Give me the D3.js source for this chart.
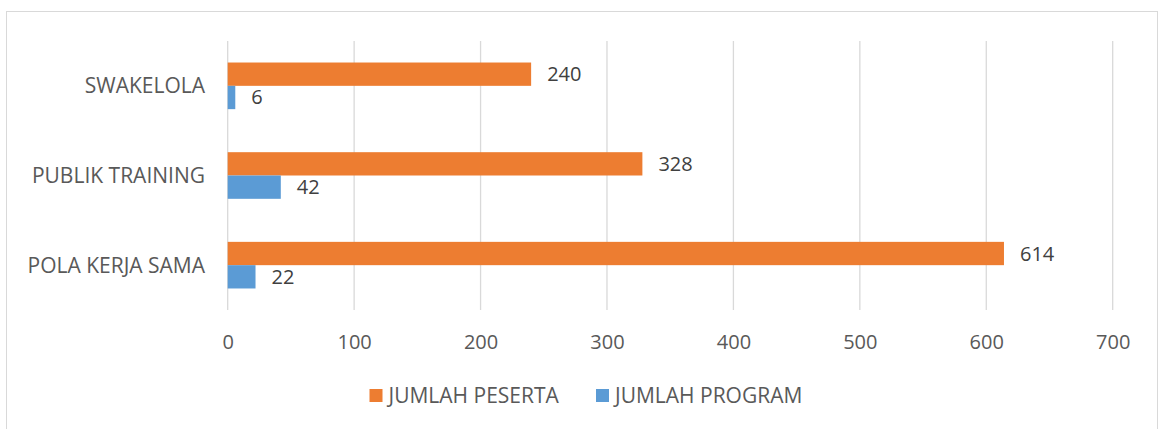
<!DOCTYPE html>
<html>
<head>
<meta charset="utf-8">
<script src="https://d3js.org/d3.v7.min.js"></script>
<style>
body { margin: 0; background: #fff; }
text { font-family: "Open Sans", sans-serif; }
</style>
</head>
<body>
<svg width="1160" height="429"></svg>
<script>
// data
var categories = ["SWAKELOLA", "PUBLIK TRAINING", "POLA KERJA SAMA"];
var seriesNames = ["JUMLAH PESERTA", "JUMLAH PROGRAM"];
var peserta = [240, 328, 614];
var program = [6, 42, 22];
var ticks = [0, 100, 200, 300, 400, 500, 600, 700];
var colors = ["#ED7D31", "#5B9BD5"];

var svg = d3.select("svg");

// outer frame
svg.append("rect")
    .attr("x", 6.5).attr("y", 11.5)
    .attr("width", 1151).attr("height", 440)
    .attr("fill", "none")
    .attr("stroke", "#d9d9d9");

var x = d3.scaleLinear().domain([0, 700]).range([227.7, 1112.7]);
var y = d3.scaleBand().domain(categories).range([41, 310])
    .paddingInner(0.48).paddingOuter(0.24);
var sub = d3.scaleBand().domain(seriesNames).range([0, y.bandwidth()]);

// grid
svg.append("g").selectAll("line")
  .data(ticks)
  .enter().append("line")
    .attr("x1", function(d) { return x(d); })
    .attr("x2", function(d) { return x(d); })
    .attr("y1", 41).attr("y2", 310)
    .attr("stroke", "#d9d9d9")
    .attr("stroke-width", 1.3);

// x axis labels
var ax = svg.append("g").attr("transform", "translate(0,342)")
  .call(d3.axisBottom(x).tickValues(ticks).tickSize(0).tickPadding(0));
ax.select(".domain").remove();
ax.selectAll("text")
    .attr("font-family", "Open Sans")
    .attr("font-size", 20)
    .attr("fill", "#595959")
    .attr("dy", "0.35em")
    .attr("y", 0);

// y category labels
svg.append("g").selectAll("text")
  .data(categories)
  .enter().append("text")
    .attr("x", 205)
    .attr("y", function(d) { return y(d) + y.bandwidth() / 2; })
    .attr("dy", "0.35em")
    .attr("text-anchor", "end")
    .attr("font-size", 21)
    .attr("fill", "#595959")
    .text(function(d) { return d; });

var rows = [];
categories.forEach(function(c, i) {
  rows.push({cat: c, s: seriesNames[0], v: peserta[i], col: colors[0]});
  rows.push({cat: c, s: seriesNames[1], v: program[i], col: colors[1]});
});

svg.append("g").selectAll("rect")
  .data(rows)
  .enter().append("rect")
    .attr("x", x(0))
    .attr("y", function(d) { return y(d.cat) + sub(d.s); })
    .attr("width", function(d) { return x(d.v) - x(0); })
    .attr("height", sub.bandwidth())
    .attr("fill", function(d) { return d.col; });

svg.append("g").selectAll("text")
  .data(rows)
  .enter().append("text")
    .attr("x", function(d) { return x(d.v) + 16; })
    .attr("y", function(d) { return y(d.cat) + sub(d.s) + sub.bandwidth() / 2; })
    .attr("dy", "0.35em")
    .attr("font-size", 20)
    .attr("fill", "#404040")
    .text(function(d) { return d.v; });

// legend
var legX = [369.5, 596];
var leg = svg.append("g").selectAll("g")
  .data(seriesNames)
  .enter().append("g")
    .attr("transform", function(d, i) { return "translate(" + legX[i] + ",389)"; });
leg.append("rect")
    .attr("width", 13).attr("height", 13)
    .attr("fill", function(d, i) { return colors[i]; });
leg.append("text")
    .attr("x", 19).attr("y", 6.5)
    .attr("dy", "0.35em")
    .attr("font-size", 21)
    .attr("fill", "#595959")
    .text(function(d) { return d; });
</script>
</body>
</html>
